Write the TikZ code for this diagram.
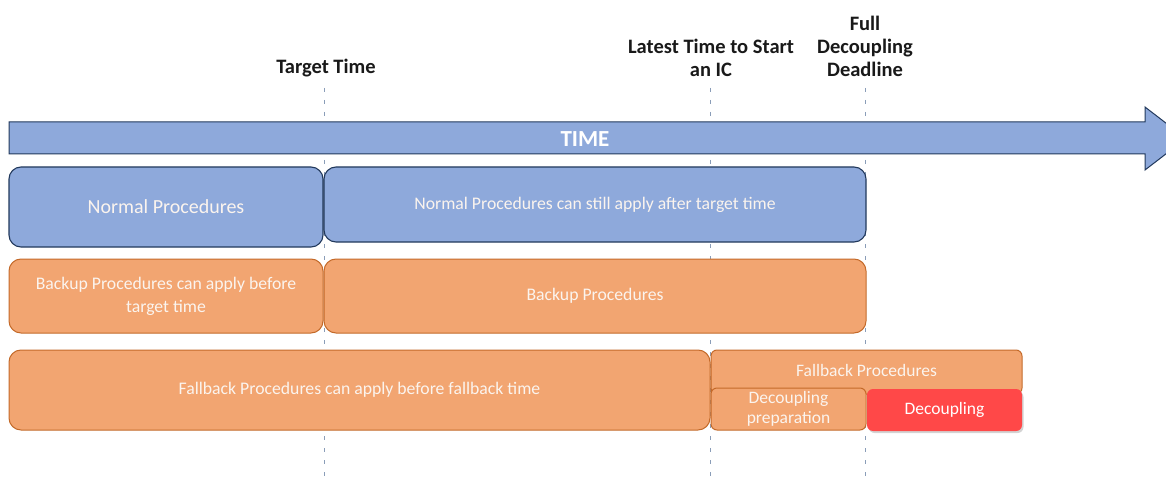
\documentclass[tikz,border=0pt]{standalone}
\usepackage{fontspec}
\setmainfont{Carlito}
\usetikzlibrary{shadows}
\definecolor{bluefill}{HTML}{8EA9DB}
\definecolor{blueline}{HTML}{22395C}
\definecolor{orfill}{HTML}{F2A571}
\definecolor{orline}{HTML}{C46A2A}
\definecolor{redfill}{HTML}{FF4848}
\definecolor{dashcol}{HTML}{8A9DB8}
\definecolor{txt}{HTML}{FBF4EE}
\tikzset{
  bluebox/.style={draw=blueline, fill=bluefill, line width=1.1pt, rounded corners=12pt, text=txt, align=center, inner sep=0pt, outer sep=0pt, font=\fontsize{17.7}{23}\selectfont},
  orbox/.style={draw=orline, fill=orfill, line width=1pt, rounded corners=12pt, text=txt, align=center, inner sep=0pt, outer sep=0pt, font=\fontsize{17.7}{23}\selectfont},
  smallor/.style={orbox, rounded corners=6pt},
  redbox/.style={fill=redfill, rounded corners=6pt, text=white, align=center, inner sep=0pt, outer sep=0pt, font=\fontsize{17.5}{21}\selectfont, drop shadow={shadow xshift=1.5pt, shadow yshift=-2pt, opacity=0.35}},
  header/.style={font=\bfseries\fontsize{20.5}{23}\selectfont, text=black!90, align=center, inner sep=0pt, anchor=south},
  timeline/.style={draw=dashcol, line width=0.8pt, dash pattern=on 4pt off 8pt},
}
\begin{document}
\begin{tikzpicture}[x=1pt,y=-1pt]
\useasboundingbox (0,0) rectangle (1166,481);
\clip (0,0) rectangle (1166,481);
% headers
\node[header] (tt) at (326,77) {Target Time};
\node[header] (lt) at (711,77) {Latest Time to Start\\an IC};
\node[header] (fd) at (865,77) {Full\\Decoupling\\Deadline};
% dashed time lines
\coordinate (t1a) at (324,88); \coordinate (t1b) at (324,481);
\coordinate (t2a) at (710,88); \coordinate (t2b) at (710,481);
\coordinate (t3a) at (865,88); \coordinate (t3b) at (865,481);
\draw[timeline] (t1a) -- (t1b);
\draw[timeline] (t2a) -- (t2b);
\draw[timeline] (t3a) -- (t3b);
% time arrow
\draw[draw=blueline, fill=bluefill, line width=1pt]
  (9,122) -- (1145,122) -- (1145,107) -- (1186,138.5) -- (1145,170) -- (1145,154) -- (9,154) -- cycle;
\node[font=\bfseries\fontsize{23}{26}\selectfont, text=white] (time) at (585,139) {TIME};
% normal procedures
\node[bluebox, minimum width=314pt, minimum height=80pt, font=\fontsize{20}{24}\selectfont] (np) at (166,207) {Normal Procedures};
\node[bluebox, minimum width=542pt, minimum height=75pt] (nps) at (595,204.5) {Normal Procedures can still apply after target time};
% backup
\node[orbox, minimum width=314pt, minimum height=74pt] (bpb) at (166,296) {Backup Procedures can apply before\\target time};
\node[orbox, minimum width=542pt, minimum height=74pt] (bp) at (595,296) {Backup Procedures};
% fallback
\node[orbox, minimum width=701pt, minimum height=80pt] (fpb) at (359.5,390) {Fallback Procedures can apply before fallback time};
\node[smallor, minimum width=311pt, minimum height=44pt] (fp) at (866.5,372) {};
\node[font=\fontsize{17.5}{21}\selectfont, text=txt] (fpt) at (866.5,370) {Fallback Procedures};
\node[smallor, minimum width=155pt, minimum height=42pt, font=\fontsize{17.5}{20}\selectfont] (dp) at (788.5,409) {Decoupling\\preparation};
\node[redbox, minimum width=155pt, minimum height=42pt] (dc) at (944.5,410) {Decoupling};
\end{tikzpicture}
\end{document}
